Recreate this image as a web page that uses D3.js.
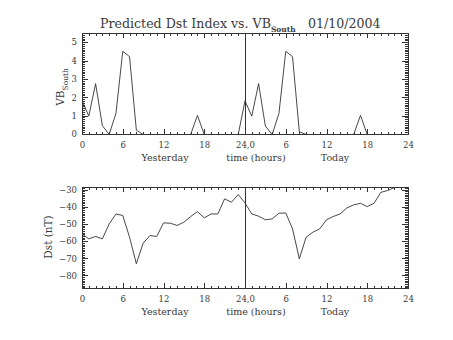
<!DOCTYPE html>
<html><head><meta charset="utf-8">
<script src="https://cdn.jsdelivr.net/npm/d3@7"></script>
<style>body{margin:0;background:#fff}svg{display:block}</style>
</head><body><svg id="c" width="453" height="340"></svg>
<script>
// ---- data ----
const hoursYesterday = [0,1,2,3,4,5,6,7,8,9,10,11,12,13,14,15,16,17,18,19,20,21,22,23];
const hoursToday = [24,25,26,27,28,29,30,31,32,33,34,35,36,37,38,39,40,41,42,43,44,45,46,47];
const vbSouthYesterday = [1.86,1.0,2.77,0.48,0,1.15,4.53,4.24,0.24,0,0,0,0,0,0,0,0,1.04,0,0,0,0,0,0];
const vbSouthToday = [1.83,1.0,2.77,0.46,0,1.15,4.53,4.24,0.15,0,0,0,0,0,0,0,0,1.04,0,0,0,0,0,0];
const dstYesterday = [-55.5,-58.4,-57,-58.4,-49.7,-43.9,-44.8,-57.4,-72.9,-60.9,-56.5,-57,-49.1,-49.3,-50.6,-48.7,-45.4,-42.5,-46.2,-43.9,-43.9,-35.1,-37.1,-32.6];
const dstToday = [-37.5,-43.9,-45.2,-47.3,-46.8,-43.5,-43.3,-52.6,-70,-57.4,-54.5,-52.6,-47.3,-45.4,-43.9,-40.4,-38.6,-37.7,-39.6,-37.7,-31.3,-30.3,-28.5];
const xTickValues = [0,6,12,18,24,30,36,42,48];
const xTickLabels = ["0","6","12","18","24,0","6","12","18","24"];
const vbTicks = [0,1,2,3,4,5];
const dstTicks = [-80,-70,-60,-50,-40,-30];
const titleMain = "Predicted Dst Index vs. VB";
const titleSub = "South";
const titleDate = "01/10/2004";

// ---- layout ----
const svg = d3.select("#c");
const FONT = "DejaVu Serif";
const INK = "#333";
const TXT = "#3a3a3a";
const xL = 82, xR = 408;
const x = d3.scaleLinear().domain([0,48]).range([xL,xR]);
const panels = [
  {top:33, bottom:134, domain:[0,5.5], ticks:vbTicks, minor:0.1, fmt:d=>String(d),
   series:[hoursYesterday.concat(hoursToday), vbSouthYesterday.concat(vbSouthToday)]},
  {top:187, bottom:288, domain:[-87.3,-28.5], ticks:dstTicks, minor:1, fmt:d=>"\u2212"+Math.abs(d),
   series:[hoursYesterday.concat(hoursToday.slice(0,dstToday.length)), dstYesterday.concat(dstToday)]}
];
const xMinor = d3.range(0,49,1);

panels.forEach((p,pi)=>{
  const y = d3.scaleLinear().domain(p.domain).range([p.bottom,p.top]);
  const g = svg.append("g");
  const yMinor = d3.range(Math.ceil(p.domain[0]/p.minor), Math.floor(p.domain[1]/p.minor)+1).map(k=>+(k*p.minor).toFixed(4));
  const style = sel => { sel.select(".domain").remove(); sel.selectAll("line").attr("stroke",INK).attr("shape-rendering","crispEdges");
    sel.selectAll("text").attr("font-family",FONT).attr("font-size",8.5).attr("fill",TXT); };
  // x axes
  g.append("g").attr("transform",`translate(0,${p.bottom})`)
    .call(d3.axisBottom(x).tickValues(xMinor).tickFormat("").tickSizeInner(-2.5).tickSizeOuter(0)).call(style);
  g.append("g").attr("transform",`translate(0,${p.bottom})`)
    .call(d3.axisBottom(x).tickValues(xTickValues).tickFormat((d,i)=>xTickLabels[i]).tickSizeInner(-5).tickSizeOuter(0).tickPadding(8)).call(style);
  g.append("g").attr("transform",`translate(0,${p.top})`)
    .call(d3.axisTop(x).tickValues(xMinor).tickFormat("").tickSizeInner(-2.5).tickSizeOuter(0)).call(style);
  g.append("g").attr("transform",`translate(0,${p.top})`)
    .call(d3.axisTop(x).tickValues(xTickValues).tickFormat("").tickSizeInner(-5).tickSizeOuter(0)).call(style);
  // y axes
  g.append("g").attr("transform",`translate(${xL},0)`)
    .call(d3.axisLeft(y).tickValues(yMinor).tickFormat("").tickSizeInner(-3).tickSizeOuter(0)).call(style);
  g.append("g").attr("transform",`translate(${xL},0)`)
    .call(d3.axisLeft(y).tickValues(p.ticks).tickFormat(p.fmt).tickSizeInner(-6).tickSizeOuter(0).tickPadding(5)).call(style);
  g.append("g").attr("transform",`translate(${xR},0)`)
    .call(d3.axisRight(y).tickValues(yMinor).tickFormat("").tickSizeInner(-3).tickSizeOuter(0)).call(style);
  g.append("g").attr("transform",`translate(${xR},0)`)
    .call(d3.axisRight(y).tickValues(p.ticks).tickFormat("").tickSizeInner(-6).tickSizeOuter(0)).call(style);
  // box
  g.append("rect").attr("x",xL+0.5).attr("y",p.top+0.5).attr("width",xR-xL).attr("height",p.bottom-p.top)
    .attr("fill","none").attr("stroke",INK).attr("shape-rendering","crispEdges");
  // day separator
  g.append("line").attr("x1",Math.round(x(24))+0.5).attr("x2",Math.round(x(24))+0.5).attr("y1",p.top).attr("y2",p.bottom)
    .attr("stroke",INK).attr("shape-rendering","crispEdges");
  // clip + line
  svg.append("clipPath").attr("id","clip"+pi).append("rect").attr("x",xL).attr("y",p.top).attr("width",xR-xL+1).attr("height",p.bottom-p.top+1);
  const pts = p.series[0].map((h,i)=>[h,p.series[1][i]]);
  g.append("path").datum(pts).attr("clip-path",`url(#clip${pi})`)
    .attr("d", d3.line().x(d=>x(d[0])).y(d=>y(d[1])+0.5))
    .attr("fill","none").attr("stroke",INK).attr("stroke-width",0.9);
  // x titles
  const tb = p.bottom + 27;
  [["Yesterday",165],["time (hours)",256],["Today",335]].forEach(([t,cx])=>{
    svg.append("text").attr("x",cx).attr("y",tb).attr("text-anchor","middle")
      .attr("font-family",FONT).attr("font-size",9.5).attr("fill",TXT).text(t);
  });
});

// y titles
const yt1 = svg.append("text").attr("transform","translate(64,87) rotate(-90)").attr("text-anchor","middle")
  .attr("font-family",FONT).attr("font-size",10.5).attr("fill",TXT);
yt1.append("tspan").text("VB");
yt1.append("tspan").attr("font-size",7.5).attr("dy",3.5).text("South");
svg.append("text").attr("transform","translate(52,237) rotate(-90)").attr("text-anchor","middle")
  .attr("font-family",FONT).attr("font-size",10.5).attr("fill",TXT).text("Dst (nT)");

// title
const tt = svg.append("text").attr("x",100).attr("y",28).attr("font-family",FONT).attr("font-size",12.6).attr("fill",TXT);
tt.append("tspan").text(titleMain);
tt.append("tspan").attr("font-size",7.5).attr("dy",4).attr("font-weight","bold").text(titleSub);
svg.append("text").attr("x",308).attr("y",28).attr("font-family",FONT).attr("font-size",12.6).attr("fill",TXT).text(titleDate);
</script></body></html>
